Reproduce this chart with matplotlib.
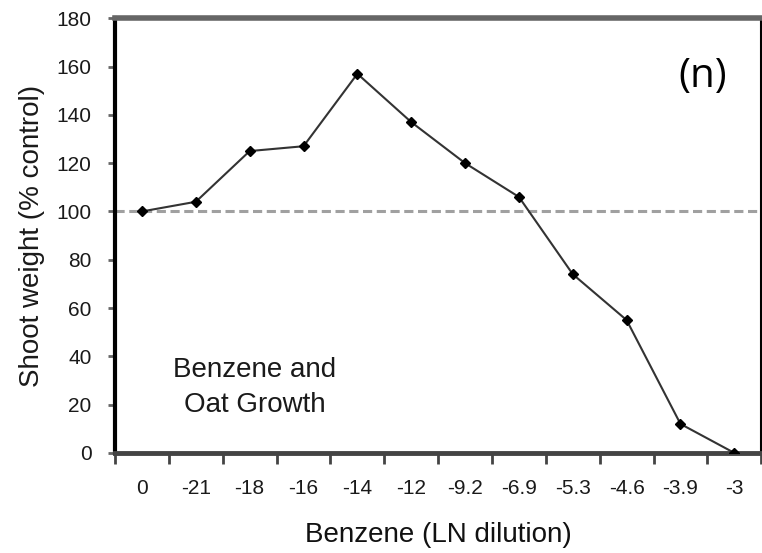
import numpy as np
import matplotlib.pyplot as plt

plt.rcParams['font.family'] = ['Liberation Sans', 'DejaVu Sans']

dilution = ["0", "-21", "-18", "-16", "-14", "-12", "-9.2", "-6.9", "-5.3", "-4.6", "-3.9", "-3"]
shoot_weight = [100, 104, 125, 127, 157, 137, 120, 106, 74, 55, 12, 0]
control = 100

fig = plt.figure(figsize=(7.62, 5.53), dpi=100)
ax = fig.add_axes([0.151, 0.181, 0.848, 0.786])

x = np.arange(len(dilution))
ax.axhline(control, color="#a0a0a0", lw=2.2, ls=(0, (3, 1.5)), zorder=1)
ax.plot(x, shoot_weight, color="#333333", lw=1.5, marker="D", ms=5,
        mfc="black", mec="black", zorder=3)

ax.set_xlim(-0.5, len(dilution) - 0.5)
ax.set_ylim(0, 180)
ax.set_yticks(np.arange(0, 181, 20))

# category labels centred, tick marks between categories
ax.set_xticks(x)
ax.set_xticklabels(dilution)
ax.set_xticks(np.arange(-0.5, len(dilution), 1), minor=True)
ax.tick_params(axis="x", which="major", length=0, pad=19, labelsize=15, colors="#1a1a1a")
ax.tick_params(axis="x", which="minor", length=8, width=2, color="#444444", direction="out")
ax.tick_params(axis="y", length=5, width=2, color="#666666", labelsize=15, colors="#1a1a1a", pad=12)

ax.spines["top"].set_color("#666666")
ax.spines["top"].set_linewidth(4)
ax.spines["bottom"].set_color("#444444")
ax.spines["bottom"].set_linewidth(3.5)
ax.spines["left"].set_color("black")
ax.spines["left"].set_linewidth(3)
ax.spines["right"].set_color("black")
ax.spines["right"].set_linewidth(1.5)

ax.set_ylabel("Shoot weight (% control)", fontsize=20, labelpad=8, color="#1a1a1a")
ax.set_xlabel("Benzene (LN dilution)", fontsize=20, labelpad=17, color="#111111")

ax.text(0.91, 0.865, "(n)", transform=ax.transAxes, fontsize=29,
        ha="center", va="center", family=["Open Sans", "DejaVu Sans"])
ax.text(0.216, 0.15, "Benzene and\nOat Growth", transform=ax.transAxes, fontsize=20,
        ha="center", va="center", color="#1a1a1a", linespacing=1.45)

fig.savefig("out.png", dpi=100)
